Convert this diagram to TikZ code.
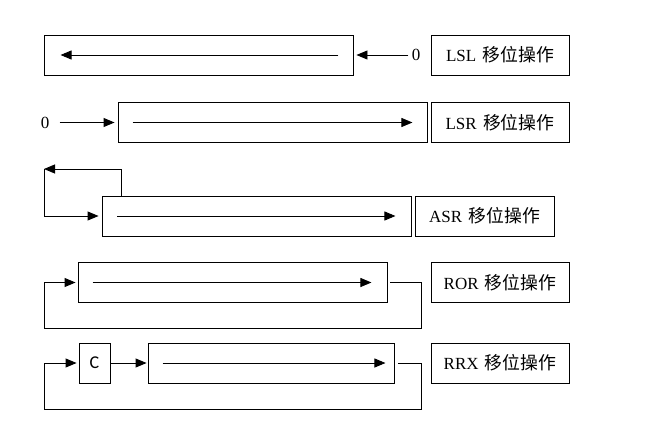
\documentclass[tikz,border=0pt]{standalone}
\usepackage{fontspec}
\setmainfont{Liberation Serif}
\newfontfamily\cjkfont[Scale=1.05]{Noto Sans CJK SC}
\newfontfamily\bitfont{Carlito}
\usetikzlibrary{arrows.meta}

\begin{document}
\begin{tikzpicture}[
    x=1pt, y=-1pt, line width=0.9pt,
    >={Triangle[length=11pt,width=9pt]},
    reg/.style={draw, minimum height=40pt, inner sep=0pt},
    oplabel/.style={draw, minimum width=138pt, minimum height=40pt, inner sep=0pt, font=\fontsize{17}{20}\selectfont},
    bit/.style={font=\fontsize{17}{20}\selectfont, inner sep=0pt},
    flow/.style={->}
]
\useasboundingbox (0,0) rectangle (666,436);

% LSL
\node[reg, minimum width=309pt] (lsl) at (198.5,55) {};
\node[oplabel] (lslop) at (500,55) {LSL\hspace{2pt} {\cjkfont 移位操作}};
\node[bit] (lslz) at (416,55) {0};
\draw[flow] ([xshift=-15pt]lsl.east) -- ([xshift=17pt]lsl.west);
\draw[flow] ([xshift=-3pt]lslz.west) -- ([xshift=3pt]lsl.east);

% LSR
\node[bit] (lsrz) at (45,122.5) {0};
\node[reg, minimum width=309pt] (lsr) at (272.5,122.5) {};
\node[oplabel] (lsrop) at (500,122.5) {LSR\hspace{2pt} {\cjkfont 移位操作}};
\draw[flow] ([xshift=10pt]lsrz.east) -- ([xshift=-3pt]lsr.west);
\draw[flow] ([xshift=15pt]lsr.west) -- ([xshift=-15pt]lsr.east);

% ASR
\node[reg, minimum width=309pt] (asr) at (256.5,216) {};
\node[oplabel, minimum width=139pt] (asrop) at (484.5,216) {ASR\hspace{2pt} {\cjkfont 移位操作}};
\coordinate (asrc) at (44,169);
\draw[flow] ([xshift=15.5pt]asr.west) -- ([xshift=-16pt]asr.east);
\draw[flow] ([xshift=19.5pt]asr.north west) |- (asrc);
\draw[flow] (asrc) |- ([xshift=-3pt]asr.west);

% ROR
\node[reg, minimum width=309pt] (ror) at (232.5,282.5) {};
\node[oplabel] (rorop) at (500,282.5) {ROR\hspace{2pt} {\cjkfont 移位操作}};
\coordinate (rorb) at (421,328);
\draw[flow] ([xshift=15pt]ror.west) -- ([xshift=-16pt]ror.east);
\draw[flow] ([xshift=3pt]ror.east) -| (rorb) -| ([xshift=-33pt]ror.west) -- ([xshift=-2pt]ror.west);

% RRX
\node[reg, minimum width=31pt, font=\bitfont\fontsize{18}{21}\selectfont] (rrxc) at (94.5,363) {C};
\node[reg, minimum width=246pt] (rrx) at (271,363) {};
\node[oplabel] (rrxop) at (500,363) {RRX\hspace{2pt} {\cjkfont 移位操作}};
\coordinate (rrxb) at (421,409);
\draw[flow] (rrxc) -- ([xshift=-1pt]rrx.west);
\draw[flow] ([xshift=15pt]rrx.west) -- ([xshift=-9pt]rrx.east);
\draw[flow] ([xshift=4pt]rrx.east) -| (rrxb) -| ([xshift=-34pt]rrxc.west) -- ([xshift=-2pt]rrxc.west);
\end{tikzpicture}
\end{document}
